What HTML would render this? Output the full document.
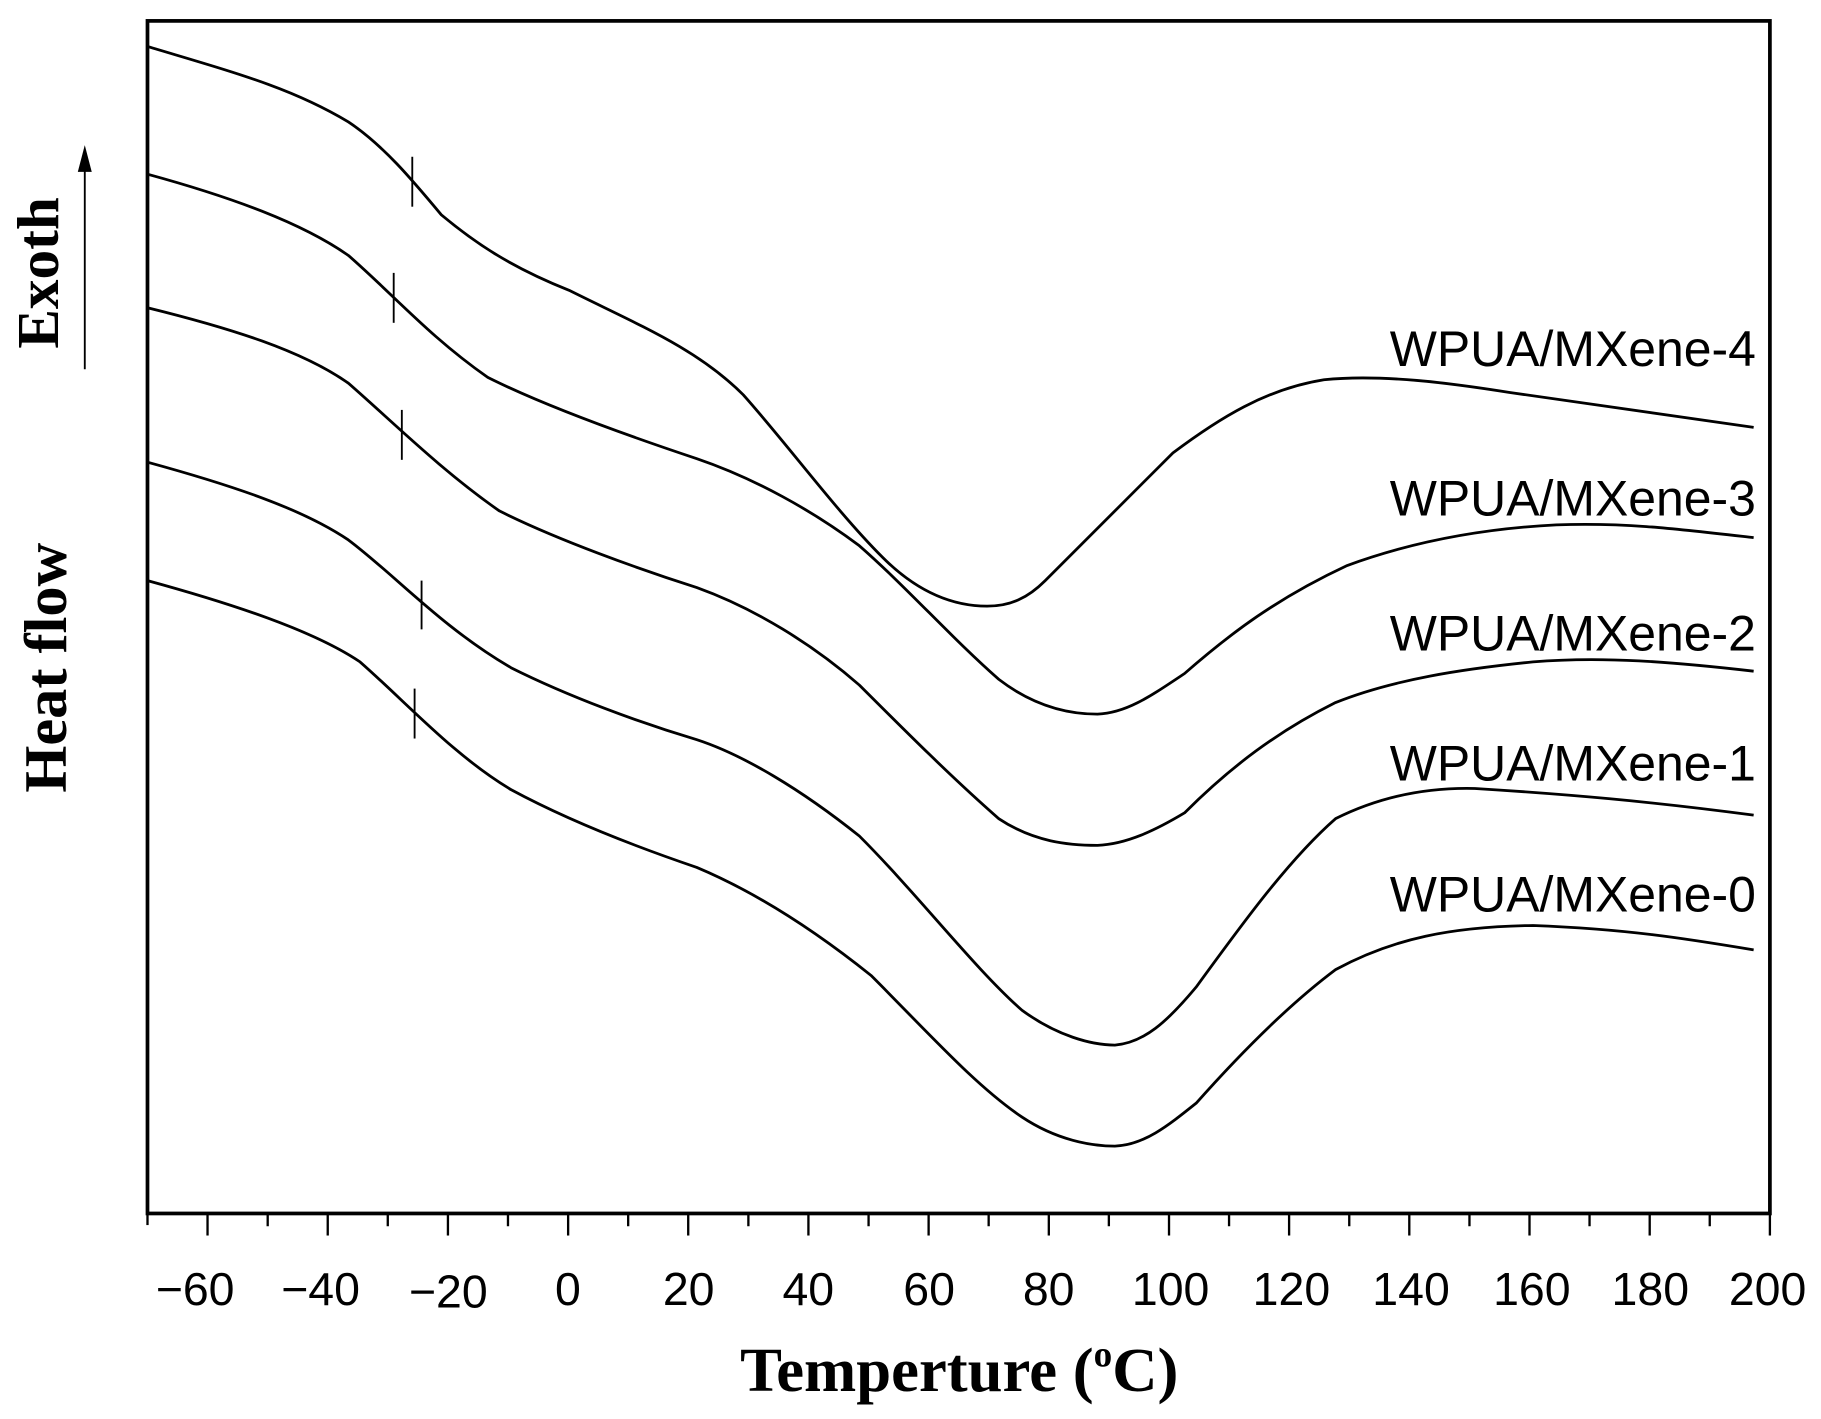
<!DOCTYPE html>
<html><head><meta charset="utf-8"><style>html,body{margin:0;padding:0;background:#fff}svg{display:block}</style></head><body>
<svg width="1821" height="1419" viewBox="0 0 1568 1222" preserveAspectRatio="none" xmlns="http://www.w3.org/2000/svg">
<rect width="1568" height="1222" fill="#fff"/>
<g fill="none" stroke="#000" stroke-width="2.4" stroke-linejoin="round">
<path d="M127,40 C200,62 250,75 300,105 C330,125 355,155 380,185 C410,210 440,230 490,250 C550,280 600,300 640,340 C680,385 720,440 760,480 C790,510 820,522 850,522 C870,522 885,515 900,500 C930,470 970,430 1010,390 C1050,360 1090,335 1140,327 C1190,322 1250,330 1300,338 C1370,348 1440,358 1510,368"/>
<path d="M127,150 C200,170 260,192 300,220 C340,255 370,290 420,325 C470,350 540,375 600,395 C650,412 700,440 740,470 C780,505 820,550 860,585 C890,608 920,615 945,615 C970,614 990,600 1020,580 C1060,545 1100,515 1160,487 C1220,465 1280,455 1340,452 C1400,450 1440,455 1510,463"/>
<path d="M127,265 C200,283 260,302 300,330 C340,365 380,405 430,440 C480,465 550,490 600,506 C650,524 700,555 740,590 C780,630 820,670 860,705 C890,725 920,728 945,728 C970,727 995,715 1020,700 C1060,660 1100,630 1150,605 C1200,585 1260,576 1320,570 C1380,565 1440,570 1510,578"/>
<path d="M127,398 C200,418 260,438 300,465 C340,495 380,540 440,575 C490,600 550,622 600,637 C640,650 690,680 740,720 C790,770 840,835 880,870 C910,892 940,900 960,900 C985,898 1005,880 1030,850 C1070,795 1110,740 1150,705 C1190,685 1230,678 1270,679 C1350,684 1420,690 1510,702"/>
<path d="M127,500 C200,520 270,543 310,570 C350,605 390,650 440,680 C490,707 550,730 600,747 C650,768 700,800 750,840 C800,890 840,935 880,962 C910,982 940,987 960,987 C985,986 1005,970 1030,950 C1070,905 1110,865 1150,835 C1200,808 1250,798 1320,797 C1400,800 1450,808 1510,818"/>
</g>
<g stroke="#000" stroke-width="1.6">
<line x1="355" y1="135" x2="355" y2="178"/><line x1="339" y1="235" x2="339" y2="278"/><line x1="346" y1="353" x2="346" y2="396"/><line x1="363" y1="500" x2="363" y2="542"/><line x1="357" y1="593" x2="357" y2="636"/>
</g>
<rect x="127" y="18" width="1397" height="1027" fill="none" stroke="#000" stroke-width="3.2"/>
<g stroke="#000" stroke-width="2">
<line x1="127" y1="1045" x2="127" y2="1055"/>
<line x1="178.7" y1="1045" x2="178.7" y2="1064"/><line x1="230.5" y1="1045" x2="230.5" y2="1056"/>
<line x1="282.2" y1="1045" x2="282.2" y2="1064"/><line x1="333.9" y1="1045" x2="333.9" y2="1056"/>
<line x1="385.7" y1="1045" x2="385.7" y2="1064"/><line x1="437.4" y1="1045" x2="437.4" y2="1056"/>
<line x1="489.2" y1="1045" x2="489.2" y2="1064"/><line x1="540.9" y1="1045" x2="540.9" y2="1056"/>
<line x1="592.6" y1="1045" x2="592.6" y2="1064"/><line x1="644.4" y1="1045" x2="644.4" y2="1056"/>
<line x1="696.1" y1="1045" x2="696.1" y2="1064"/><line x1="747.9" y1="1045" x2="747.9" y2="1056"/>
<line x1="799.6" y1="1045" x2="799.6" y2="1064"/><line x1="851.3" y1="1045" x2="851.3" y2="1056"/>
<line x1="903.1" y1="1045" x2="903.1" y2="1064"/><line x1="954.8" y1="1045" x2="954.8" y2="1056"/>
<line x1="1006.6" y1="1045" x2="1006.6" y2="1064"/><line x1="1058.3" y1="1045" x2="1058.3" y2="1056"/>
<line x1="1110" y1="1045" x2="1110" y2="1064"/><line x1="1161.8" y1="1045" x2="1161.8" y2="1056"/>
<line x1="1213.5" y1="1045" x2="1213.5" y2="1064"/><line x1="1265.3" y1="1045" x2="1265.3" y2="1056"/>
<line x1="1317" y1="1045" x2="1317" y2="1064"/><line x1="1368.7" y1="1045" x2="1368.7" y2="1056"/>
<line x1="1420.5" y1="1045" x2="1420.5" y2="1064"/><line x1="1472.2" y1="1045" x2="1472.2" y2="1056"/>
<line x1="1524" y1="1045" x2="1524" y2="1064"/>
</g>
<g font-family="Liberation Sans, sans-serif" font-size="40" text-anchor="middle" fill="#000">
<text x="168" y="1124">−60</text><text x="276" y="1124">−40</text><text x="386" y="1126">−20</text>
<text x="489" y="1124">0</text><text x="593" y="1124">20</text><text x="696" y="1124">40</text>
<text x="800" y="1124">60</text><text x="903" y="1124">80</text><text x="1008" y="1124">100</text>
<text x="1112" y="1124">120</text><text x="1215" y="1124">140</text><text x="1319" y="1124">160</text>
<text x="1421" y="1124">180</text><text x="1522" y="1124">200</text>
</g>
<g font-family="Liberation Sans, sans-serif" font-size="43" text-anchor="end" fill="#000">
<text x="1512" y="315">WPUA/MXene-4</text>
<text x="1512" y="444">WPUA/MXene-3</text>
<text x="1512" y="560">WPUA/MXene-2</text>
<text x="1512" y="672">WPUA/MXene-1</text>
<text x="1512" y="785">WPUA/MXene-0</text>
</g>
<text x="826" y="1198" font-family="Liberation Serif, serif" font-weight="bold" font-size="54" text-anchor="middle">Temperture (<tspan font-size="32" dy="-21">o</tspan><tspan dy="21">C)</tspan></text>
<text transform="translate(57,575) rotate(-90)" font-family="Liberation Serif, serif" font-weight="bold" font-size="52" text-anchor="middle">Heat flow</text>
<text transform="translate(50,235) rotate(-90)" font-family="Liberation Serif, serif" font-weight="bold" font-size="51" text-anchor="middle">Exoth</text>
<line x1="73" y1="318" x2="73" y2="145" stroke="#000" stroke-width="1.6"/>
<polygon points="73,125 67,148 79,148" fill="#000"/>
</svg>
</body></html>
